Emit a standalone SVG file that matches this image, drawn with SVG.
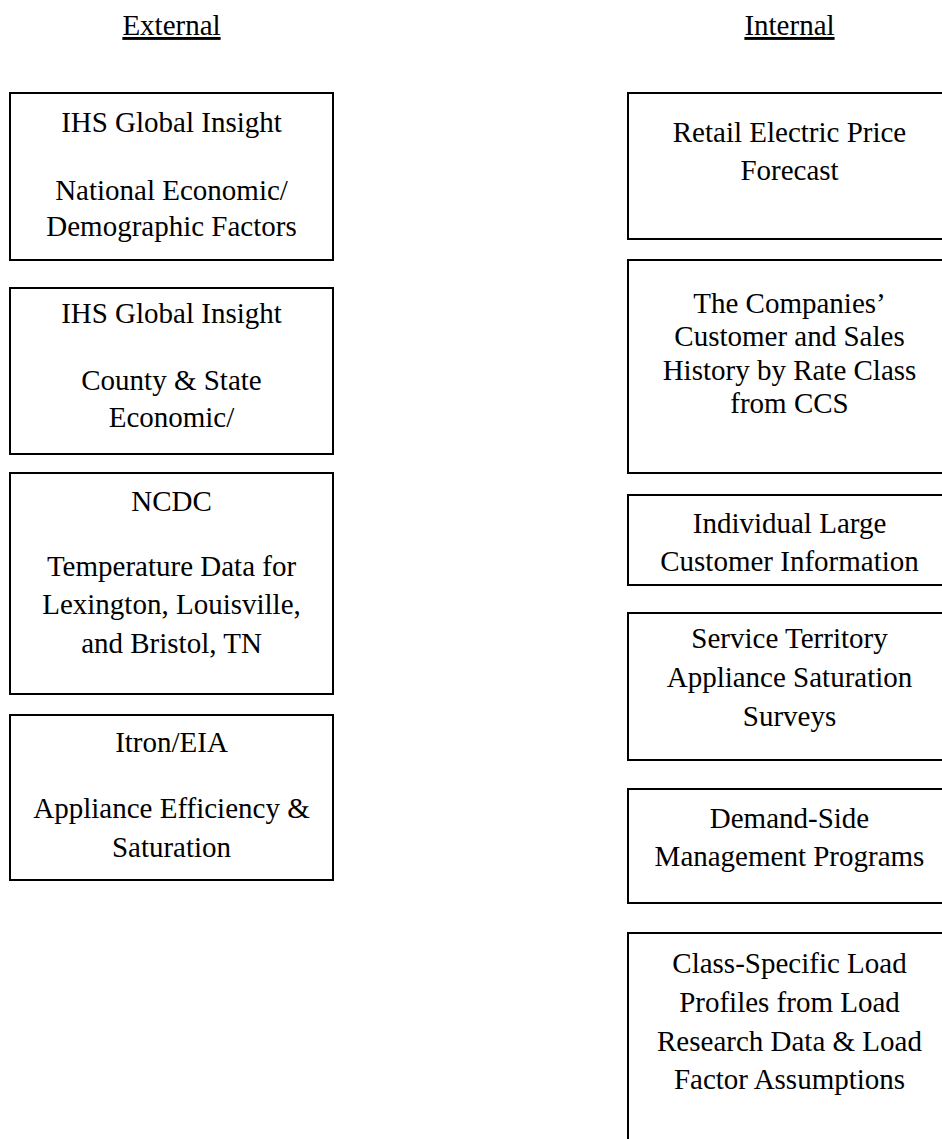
<svg xmlns="http://www.w3.org/2000/svg" width="942" height="1139" viewBox="0 0 942 1139">
<style>
text{font-family:"Liberation Serif","Times New Roman",serif;font-size:29px;fill:#000;text-anchor:middle}
.h{text-decoration:underline}
rect{fill:#fff;stroke:#000;stroke-width:2}
</style>
<rect x="0" y="0" width="942" height="1139" style="stroke:none"/>
<g id="headings">
<text class="h" x="171.5" y="35">External</text>
<text class="h" x="789.5" y="35">Internal</text>
</g>
<g id="connectors"></g>
<g id="ext1"><rect x="10" y="93" width="323" height="167"/>
<text x="171.5" y="132">IHS Global Insight</text>
<text x="171.5" y="200">National Economic/</text>
<text x="171.5" y="236">Demographic Factors</text></g>
<g id="ext2"><rect x="10" y="288" width="323" height="166"/>
<text x="171.5" y="323">IHS Global Insight</text>
<text x="171.5" y="390">County &amp; State</text>
<text x="171.5" y="427">Economic/</text></g>
<g id="ext3"><rect x="10" y="473" width="323" height="221"/>
<text x="171.5" y="511">NCDC</text>
<text x="171.5" y="576">Temperature Data for</text>
<text x="171.5" y="614">Lexington, Louisville,</text>
<text x="171.5" y="653">and Bristol, TN</text></g>
<g id="ext4"><rect x="10" y="715" width="323" height="165"/>
<text x="171.5" y="752">Itron/EIA</text>
<text x="171.5" y="818">Appliance Efficiency &amp;</text>
<text x="171.5" y="857">Saturation</text></g>
<g id="int1"><rect x="628" y="93" width="330" height="146"/>
<text x="789.5" y="142">Retail Electric Price</text>
<text x="789.5" y="180">Forecast</text></g>
<g id="int2"><rect x="628" y="260" width="330" height="213"/>
<text x="789.5" y="313">The Companies’</text>
<text x="789.5" y="346">Customer and Sales</text>
<text x="789.5" y="380">History by Rate Class</text>
<text x="789.5" y="413">from CCS</text></g>
<g id="int3"><rect x="628" y="495" width="330" height="90"/>
<text x="789.5" y="533">Individual Large</text>
<text x="789.5" y="571">Customer Information</text></g>
<g id="int4"><rect x="628" y="613" width="330" height="147"/>
<text x="789.5" y="648">Service Territory</text>
<text x="789.5" y="687">Appliance Saturation</text>
<text x="789.5" y="726">Surveys</text></g>
<g id="int5"><rect x="628" y="789" width="330" height="114"/>
<text x="789.5" y="828">Demand-Side</text>
<text x="789.5" y="866">Management Programs</text></g>
<g id="int6"><rect x="628" y="933" width="330" height="230"/>
<text x="789.5" y="973">Class-Specific Load</text>
<text x="789.5" y="1012">Profiles from Load</text>
<text x="789.5" y="1051">Research Data &amp; Load</text>
<text x="789.5" y="1089">Factor Assumptions</text></g>
</svg>
